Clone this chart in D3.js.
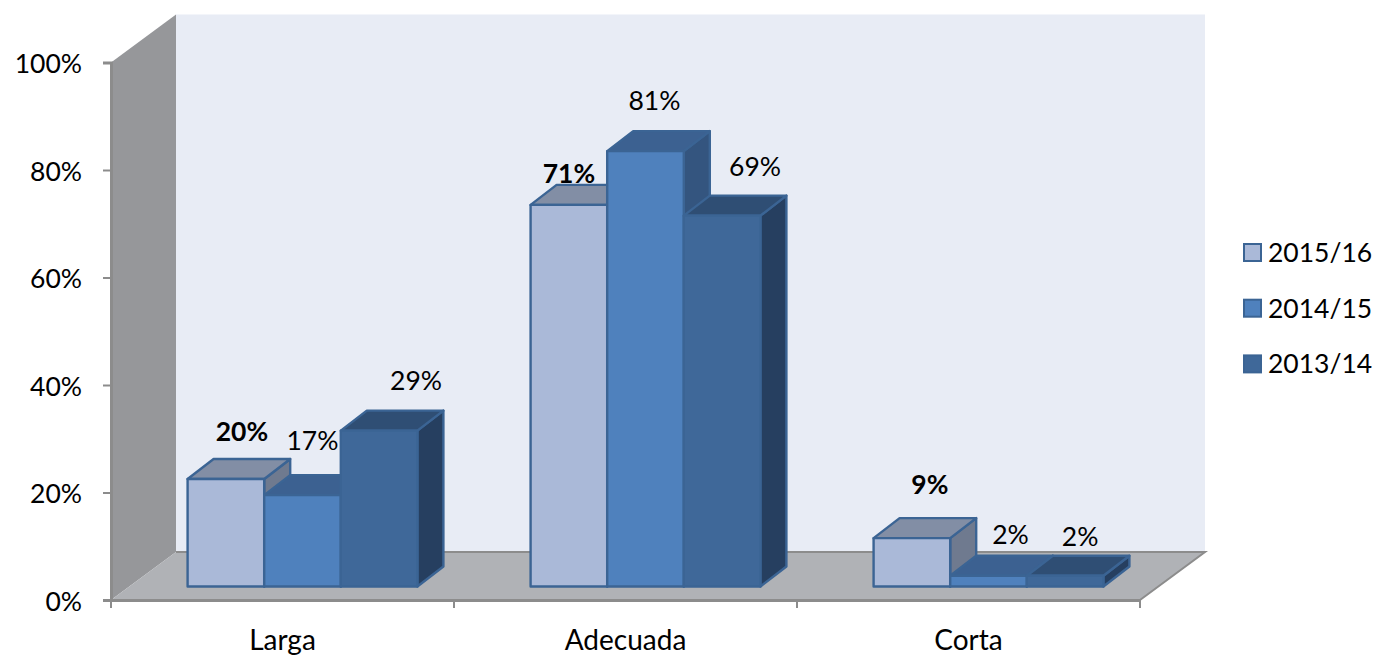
<!DOCTYPE html>
<html>
<head>
<meta charset="utf-8">
<script src="https://cdn.jsdelivr.net/npm/d3@7"></script>
<style>
html,body{margin:0;padding:0;background:#fff;}
svg{display:block;}
text{font-family:Lato,"Open Sans",sans-serif;fill:#000;}
</style>
</head>
<body>
<svg id="chart"></svg>
<script>
const categories = ["Larga","Adecuada","Corta"];
const seriesNames = ["2015/16","2014/15","2013/14"];
const values2015 = [20,71,9];
const values2014 = [17,81,2];
const values2013 = [29,69,2];
const yTicks = [0,20,40,60,80,100];

const width = 1377, height = 656;
const wallDx = 65, wallDy = 48;      // depth of the whole box
const barDx = 26, barDy = 20;        // depth of one bar
const floorDx = 20, floorDy = 13.5;  // how far in the bars stand on the floor
const fontSize = 26.5, catFontSize = 28;

const colors = [
    {front:"#aab9d8",top:"#828ea5",side:"#6f7a8f"},
    {front:"#4f81bd",top:"#3c6191",side:"#34557f"},
    {front:"#3f6899",top:"#2f4e74",side:"#263f60"}
];
const barStroke = "#3b6494";
// label nudges from bar centre, per series then category
const labelNudge = [
    [[16,-38],[0,-22],[18,-44]],
    [[10,-45],[9,-41],[22,-32]],
    [[37,-41],[33,-40],[15,-30]]
];

const svg = d3.select("#chart").attr("width",width).attr("height",height);

const y = d3.scaleLinear().domain([0,100]).range([600,62.5]);
const x0 = d3.scaleBand().domain(categories).range([111,1140]).paddingInner(0.33).paddingOuter(0.165);
const x1 = d3.scaleBand().domain(seriesNames).range([0,x0.bandwidth()]);

const left = x0.range()[0], right = x0.range()[1];
const poly = pts => pts.map(p=>p.join(",")).join(" ");

// walls and floor
svg.append("polygon")
    .attr("points",poly([[left+wallDx,y(100)-wallDy],[right+wallDx,y(100)-wallDy],[right+wallDx,y(0)-wallDy],[left+wallDx,y(0)-wallDy]]))
    .attr("fill","#e8ecf5");
svg.append("polygon")
    .attr("points",poly([[left,y(100)],[left+wallDx,y(100)-wallDy],[left+wallDx,y(0)-wallDy],[left,y(0)]]))
    .attr("fill","#96979a");
svg.append("polygon")
    .attr("points",poly([[left,y(0)],[left+wallDx,y(0)-wallDy],[right+wallDx,y(0)-wallDy],[right,y(0)]]))
    .attr("fill","#b0b2b6");
svg.append("polyline")
    .attr("points",poly([[left+wallDx,y(0)-wallDy],[right+wallDx,y(0)-wallDy],[right,y(0)]]))
    .attr("fill","none").attr("stroke","#8c8c8c").attr("stroke-width",2);

// axes
const yAxis = svg.append("g")
    .attr("transform",`translate(${left},0)`)
    .call(d3.axisLeft(y).tickValues(yTicks).tickFormat(d=>d+"%").tickSize(8).tickPadding(21));
const xAxis = svg.append("g")
    .attr("transform",`translate(0,${y(0)})`)
    .call(d3.axisBottom(x0).tickSize(0).tickPadding(30));
[yAxis,xAxis].forEach(a=>{
    a.select(".domain").attr("stroke","#8c8c8c").attr("stroke-width",3);
    a.selectAll("line").attr("stroke","#8c8c8c").attr("stroke-width",2);
    a.selectAll("text").attr("fill","#000");
});
yAxis.selectAll("text").attr("dy","0.39em").style("font-family","Lato").style("font-size",fontSize+"px");
xAxis.selectAll("text").style("font-family","Lato").style("font-size",catFontSize+"px");
svg.append("g").selectAll("line")
    .data(d3.range(categories.length+1))
    .join("line")
    .attr("x1",i=>left+i*x0.step()).attr("x2",i=>left+i*x0.step())
    .attr("y1",y(0)).attr("y2",y(0)+8)
    .attr("stroke","#8c8c8c").attr("stroke-width",2);

// bars
const rows = [];
categories.forEach((c,ci)=>{
    [values2015,values2014,values2013].forEach((vals,si)=>{
        rows.push({cat:c,ci:ci,si:si,name:seriesNames[si],value:vals[ci]});
    });
});
const barX = d=>x0(d.cat)+x1(d.name)+floorDx;
const barTop = d=>y(d.value)-floorDy;
const barBase = y(0)-floorDy;
const bw = x1.bandwidth();

const bars = svg.append("g").selectAll("g").data(rows).join("g")
    .attr("stroke",barStroke).attr("stroke-width",2.4).attr("stroke-linejoin","round");
bars.append("polygon")
    .attr("points",d=>poly([[barX(d)+bw,barTop(d)],[barX(d)+bw+barDx,barTop(d)-barDy],[barX(d)+bw+barDx,barBase-barDy],[barX(d)+bw,barBase]]))
    .attr("fill",d=>colors[d.si].side);
bars.append("polygon")
    .attr("points",d=>poly([[barX(d),barTop(d)],[barX(d)+barDx,barTop(d)-barDy],[barX(d)+bw+barDx,barTop(d)-barDy],[barX(d)+bw,barTop(d)]]))
    .attr("fill",d=>colors[d.si].top);
bars.append("rect")
    .attr("x",barX).attr("y",barTop)
    .attr("width",bw).attr("height",d=>barBase-barTop(d))
    .attr("fill",d=>colors[d.si].front);

// value labels, first series is bold
svg.append("g").selectAll("text").data(rows).join("text")
    .attr("x",d=>barX(d)+bw/2+labelNudge[d.si][d.ci][0])
    .attr("y",d=>barTop(d)+labelNudge[d.si][d.ci][1])
    .attr("text-anchor","middle")
    .style("font-size",fontSize+"px")
    .style("font-weight",d=>d.si==0?"700":"400")
    .text(d=>d.value+"%");

// legend
const legend = svg.append("g").selectAll("g").data(seriesNames).join("g")
    .attr("transform",(d,i)=>`translate(1243,${253+i*55.7})`);
legend.append("rect")
    .attr("x",1).attr("y",-9).attr("width",17).attr("height",17)
    .attr("fill",(d,i)=>colors[i].front)
    .attr("stroke",barStroke).attr("stroke-width",2);
legend.append("text")
    .attr("x",25).attr("y",9)
    .style("font-size",fontSize+"px")
    .text(d=>d);
</script>
</body>
</html>
